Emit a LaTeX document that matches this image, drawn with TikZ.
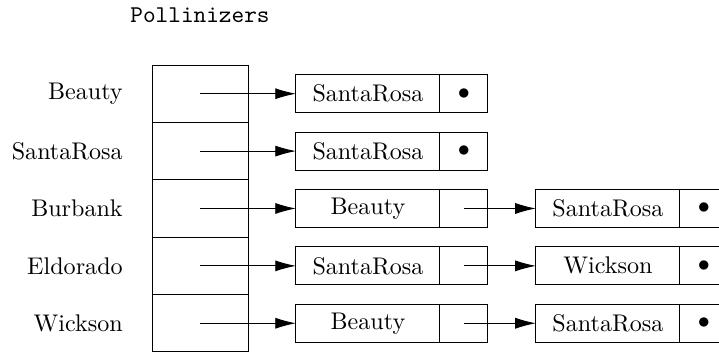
\documentclass[tikz,border=0pt]{standalone}
\usetikzlibrary{arrows.meta,positioning}

\begin{document}
\begin{tikzpicture}[
    >={Latex[length=8.6pt,width=4.6pt]},
    node distance=0mm and 7mm,
    slot/.style={draw, minimum width=14mm, minimum height=8.37mm, inner sep=0pt, outer sep=0pt},
    elem/.style={draw, minimum width=21mm, minimum height=5.54mm, inner sep=0pt, outer sep=0pt},
    link/.style={draw, minimum width=7mm, minimum height=5.54mm, inner sep=0pt, outer sep=0pt},
    key/.style={inner sep=0pt},
]

% table of slots
\node[slot] (s1) {};
\node[slot, below=of s1] (s2) {};
\node[slot, below=of s2] (s3) {};
\node[slot, below=of s3] (s4) {};
\node[slot, below=of s4] (s5) {};
\node[above=4.9mm of s1, font=\ttfamily] (title) {Pollinizers};

\useasboundingbox ([shift={(-22.17mm,9.48mm)}]s1.north west)
    rectangle ([shift={(82.70mm,-42.15mm)}]s1.north west);

% keys
\node[key, left=4.2mm of s1] (k1) {Beauty};
\node[key, left=4.2mm of s2] (k2) {SantaRosa};
\node[key, left=4.2mm of s3] (k3) {Burbank};
\node[key, left=4.2mm of s4] (k4) {Eldorado};
\node[key, left=4.2mm of s5] (k5) {Wickson};

% first list elements
\node[elem, right=of s1] (e1) {SantaRosa};
\node[link, right=0mm of e1] (p1) {$\bullet$};
\node[elem, right=of s2] (e2) {SantaRosa};
\node[link, right=0mm of e2] (p2) {$\bullet$};
\node[elem, right=of s3] (e3) {Beauty};
\node[link, right=0mm of e3] (p3) {};
\node[elem, right=of s4] (e4) {SantaRosa};
\node[link, right=0mm of e4] (p4) {};
\node[elem, right=of s5] (e5) {Beauty};
\node[link, right=0mm of e5] (p5) {};
\draw[->] (s1.center) -- (e1.west);
\draw[->] (s2.center) -- (e2.west);
\draw[->] (s3.center) -- (e3.west);
\draw[->] (s4.center) -- (e4.west);
\draw[->] (s5.center) -- (e5.west);

% second list elements
\node[elem, right=of p3] (f3) {SantaRosa};
\node[link, right=0mm of f3] (q3) {$\bullet$};
\node[elem, right=of p4] (f4) {Wickson};
\node[link, right=0mm of f4] (q4) {$\bullet$};
\node[elem, right=of p5] (f5) {SantaRosa};
\node[link, right=0mm of f5] (q5) {$\bullet$};
\draw[->] (p3.center) -- (f3.west);
\draw[->] (p4.center) -- (f4.west);
\draw[->] (p5.center) -- (f5.west);

\end{tikzpicture}
\end{document}
